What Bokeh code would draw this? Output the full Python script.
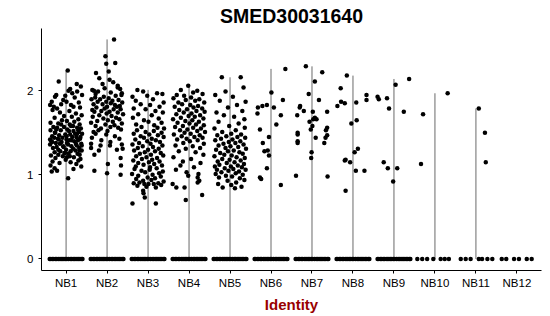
from bokeh.plotting import figure
from bokeh.models import Range1d, FixedTicker
from bokeh.embed import file_html
from bokeh.resources import INLINE

title_text = "SMED30031640"
x_title = "Identity"
categories = ["NB1", "NB2", "NB3", "NB4", "NB5", "NB6", "NB7", "NB8", "NB9", "NB10", "NB11", "NB12"]
y_ticks = [0, 1, 2]

# non-zero expression values per identity: (jitter offset, value)
nb1 = [(0.04,2.24),(0.36,2.05),(0.10,2.02),(0.39,1.95),(-0.24,1.95),(0.15,1.97),(-0.27,1.93),(-0.18,2.11),(0.26,2.08),(-0.39,1.83),(0.06,2.00),(0.21,1.92),(-0.07,1.89),(0.31,1.86),(-0.12,1.84),(0.18,1.81),(0.01,1.87),(0.34,1.80),(-0.02,1.94),(0.27,1.99),(-0.35,1.87),(-0.30,1.81),(0.12,1.83),
       (-0.33,1.77),(-0.22,1.79),(0.08,1.76),(-0.15,1.74),(0.24,1.73),(0.38,1.71),(-0.05,1.70),(0.14,1.69),(-0.28,1.68),(0.30,1.66),(-0.10,1.65),(0.02,1.64),(0.20,1.63),(-0.38,1.62),(-0.19,1.61),(0.33,1.60),(0.09,1.60),
       (0.12,1.58),(-0.31,1.57),(0.27,1.56),(-0.05,1.57),(0.36,1.55),(-0.22,1.56),(0.03,1.54),(-0.38,1.53),(0.18,1.52),(-0.13,1.53),(0.31,1.51),(0.07,1.52),(-0.27,1.50),(0.22,1.49),(-0.02,1.48),(0.39,1.49),(-0.17,1.47),(0.10,1.48),(-0.34,1.46),(0.25,1.45),(-0.09,1.44),(0.15,1.45),(0.34,1.43),(-0.29,1.44),(0.01,1.42),(-0.20,1.43),(0.29,1.41),(-0.36,1.40),(0.08,1.41),(-0.11,1.39),(0.20,1.40),(-0.25,1.38),(0.37,1.37),(0.05,1.36),(-0.15,1.37),(0.26,1.35),(-0.39,1.36),(0.13,1.34),(-0.06,1.33),(0.32,1.32),(-0.23,1.33),(0.17,1.31),(-0.32,1.32),(0.00,1.30),(0.23,1.29),(-0.14,1.28),(0.38,1.29),(-0.28,1.27),(0.11,1.28),(-0.03,1.26),(0.28,1.25),(-0.19,1.24),(0.06,1.25),(-0.37,1.23),(0.33,1.24),(-0.08,1.22),(0.19,1.21),(-0.26,1.20),(0.02,1.21),(0.35,1.19),
       (-0.27,1.50),(0.01,1.46),(0.27,1.49),(-0.18,1.42),(0.13,1.41),(0.38,1.35),(-0.07,1.34),(0.24,1.37),(-0.34,1.39),(0.33,1.29),(-0.19,1.30),(0.09,1.22),(-0.04,1.26),(0.17,1.58),(-0.12,1.60),(0.30,1.53),(-0.24,1.54),(0.02,1.38),(0.35,1.45),(-0.39,1.42),
       (-0.01,1.18),(0.30,1.17),(-0.33,1.16),(0.11,1.15),(-0.16,1.14),(0.25,1.13),(-0.38,1.11),(0.37,1.10),(-0.28,1.08),(0.18,1.07),(-0.22,1.05),(-0.35,1.04),(0.05,0.96)]
nb2 = [(0.17,2.61),(-0.04,2.41),(0.20,2.33),(-0.02,2.32),(0.04,2.23),(-0.27,2.21),(-0.19,2.15),(0.06,2.13),(0.15,2.10),(0.26,2.06),(-0.32,2.00),(0.26,2.04),(-0.11,2.08),(0.32,2.02),(-0.36,2.01),(-0.22,1.99),(0.09,1.98),(0.36,1.97),(-0.06,2.03),(-0.28,1.96),
       (0.21,1.94),(-0.08,1.93),(0.35,1.95),(-0.29,1.92),(0.04,1.91),(-0.17,1.90),(0.28,1.89),(-0.38,1.90),(0.13,1.88),(-0.02,1.87),(0.37,1.86),(-0.23,1.87),(0.09,1.85),(-0.33,1.84),(0.19,1.83),(-0.11,1.84),(0.31,1.82),(0.00,1.81),(-0.26,1.80),(0.24,1.81),(-0.06,1.79),(0.16,1.78),(-0.36,1.77),(0.33,1.78),(-0.14,1.76),(0.06,1.75),(0.26,1.74),(-0.31,1.75),(-0.01,1.73),(0.39,1.72),(-0.19,1.71),(0.11,1.70),(-0.35,1.69),(0.22,1.68),(-0.09,1.67),(0.30,1.66),(0.02,1.65),(-0.24,1.64),(0.14,1.63),(-0.39,1.62),(0.36,1.61),(-0.04,1.60),(0.18,1.59),(-0.28,1.58),(0.08,1.57),(0.27,1.56),(-0.15,1.55),(0.34,1.54),(-0.21,1.53),(0.01,1.52),(-0.33,1.51),
       (-0.28,1.49),(-0.02,1.48),(0.19,1.46),(-0.37,1.44),(0.30,1.43),(-0.14,1.41),(0.08,1.39),(-0.39,1.37),(0.36,1.36),(-0.16,1.35),(0.07,1.35),(-0.39,1.32),(0.38,1.31),(-0.20,1.29),(0.24,1.30),(-0.31,1.24),(0.33,1.20),(0.02,1.13),(0.34,1.11),(-0.31,1.05),(0.00,1.02),(0.33,1.00)]
nb3 = [(-0.26,2.01),(-0.12,1.99),(0.35,1.96),(-0.38,1.93),(-0.02,1.94),(0.22,1.97),(-0.30,1.88),(0.12,1.90),(0.38,1.86),(-0.18,1.84),(0.05,1.83),(0.28,1.81),(-0.35,1.79),(-0.06,1.78),(0.18,1.76),(0.36,1.74),(-0.24,1.72),(0.09,1.71),(-0.37,1.68),(0.26,1.67),(-0.10,1.65),(0.01,1.63),(0.33,1.62),(-0.29,1.60),(0.15,1.59),(-0.16,1.57),(0.23,1.56),(0.39,1.55),
       (-0.27,1.53),(0.14,1.52),(-0.06,1.51),(0.33,1.50),(-0.35,1.49),(0.03,1.48),(0.24,1.47),(-0.18,1.46),(0.38,1.45),(-0.10,1.44),(0.09,1.43),(-0.31,1.42),(0.19,1.41),(-0.02,1.40),(0.29,1.39),(-0.22,1.38),(0.06,1.37),(-0.38,1.36),(0.35,1.35),(-0.13,1.34),(0.12,1.33),(-0.25,1.32),(0.26,1.31),(0.00,1.30),(-0.34,1.29),(0.17,1.28),(-0.08,1.27),(0.31,1.26),(-0.20,1.25),(0.07,1.24),(0.37,1.23),(-0.29,1.22),(-0.04,1.21),(0.22,1.20),(-0.15,1.19),(0.10,1.18),(-0.36,1.17),(0.28,1.16),(0.02,1.15),(-0.24,1.14),(0.15,1.13),(-0.11,1.12),(0.34,1.11),(-0.30,1.10),(0.05,1.09),
       (0.21,1.08),(-0.33,1.07),(0.04,1.06),(-0.16,1.05),(0.36,1.04),(-0.07,1.03),(0.27,1.02),(-0.39,1.01),(0.11,1.00),(-0.24,0.99),(0.31,0.98),(-0.01,0.97),(0.17,0.96),(-0.29,0.95),(0.08,0.94),(-0.12,0.93),(0.38,0.92),(-0.21,0.91),(0.25,0.90),(-0.35,0.90),(0.01,0.89),(0.14,0.89),(-0.09,0.89),(0.32,0.88),(-0.26,0.87),(0.19,0.85),(-0.04,0.86),
       (-0.12,0.81),(-0.11,0.78),(-0.08,0.73),(-0.38,0.66),(0.19,0.66)]
nb4 = [(-0.02,2.06),(-0.20,2.01),(0.20,2.00),(0.10,1.98),(-0.30,1.95),(0.33,1.96),(-0.12,1.94),(0.05,1.92),(0.25,1.90),(-0.38,1.91),(-0.08,1.89),(0.15,1.88),(0.37,1.86),(-0.26,1.86),
       (-0.17,1.84),(0.03,1.83),(0.22,1.82),(-0.35,1.81),(0.11,1.80),(0.32,1.79),(-0.05,1.78),(-0.24,1.77),(0.18,1.76),(0.38,1.75),(-0.13,1.74),(0.06,1.73),(-0.31,1.72),(0.27,1.71),(-0.01,1.70),(0.14,1.69),(-0.20,1.68),(0.35,1.67),(-0.39,1.66),(0.08,1.65),(-0.09,1.64),(0.24,1.63),(-0.28,1.62),(0.01,1.61),(0.17,1.60),(0.36,1.59),(-0.15,1.58),(-0.34,1.57),(0.10,1.56),(0.29,1.55),(-0.04,1.54),(-0.22,1.53),(0.20,1.52),(0.39,1.51),(-0.11,1.50),(0.04,1.49),(-0.37,1.48),(0.26,1.47),(-0.18,1.46),(0.13,1.45),(0.33,1.44),(-0.06,1.43),(-0.29,1.42),(0.21,1.41),(0.02,1.40),(-0.14,1.38),(0.36,1.37),(-0.33,1.35),(0.09,1.34),(0.27,1.32),(-0.08,1.31),
       (-0.25,1.28),(0.16,1.27),(0.35,1.24),(-0.38,1.21),(0.05,1.19),(-0.15,1.16),(0.28,1.14),(-0.21,1.11),(0.12,1.09),(-0.32,1.06),(-0.06,1.03),(0.23,1.01),(-0.02,0.99),(0.21,0.97),(0.25,0.93),(0.21,0.91),(-0.40,0.89),(-0.31,0.85),(-0.11,0.85),(0.32,0.76),(-0.08,0.70)]
nb5 = [(-0.20,2.16),(0.26,2.16),(0.33,2.04),(-0.11,1.99),(-0.36,1.95),(0.07,1.93),(0.38,1.87),(-0.25,1.88),(0.17,1.83),(-0.05,1.80),(0.30,1.76),(-0.33,1.74),(-0.15,1.71),(0.10,1.69),(0.35,1.66),(-0.28,1.63),(0.21,1.61),(-0.02,1.58),(0.36,1.56),(-0.38,1.55),(0.14,1.53),(-0.19,1.51),
       (0.03,1.49),(0.27,1.48),(-0.31,1.47),(-0.09,1.46),(0.18,1.45),(0.37,1.44),(-0.22,1.43),(0.06,1.42),(-0.36,1.41),(0.25,1.40),(-0.03,1.39),(0.13,1.38),(-0.16,1.37),(0.33,1.36),(-0.28,1.35),(0.01,1.34),(0.20,1.33),(-0.11,1.32),(0.39,1.31),(-0.34,1.30),(0.09,1.29),(-0.05,1.28),(0.23,1.27),(-0.24,1.26),(0.31,1.25),(-0.14,1.24),(0.04,1.23),(-0.38,1.22),(0.16,1.21),(0.36,1.20),(-0.19,1.19),(-0.01,1.18),(0.26,1.17),(-0.30,1.16),(0.11,1.15),(-0.08,1.14),(0.34,1.13),(-0.26,1.12),(0.19,1.11),(-0.37,1.10),(0.02,1.10),(0.29,1.09),(-0.13,1.08),(0.08,1.07),(-0.32,1.06),(0.38,1.06),(-0.04,1.05),(0.22,1.04),(-0.21,1.03),(0.14,1.02),(-0.35,1.01),(0.31,1.00),(-0.10,0.99),(0.05,0.98),(-0.27,0.97),(0.24,0.96),(0.35,0.94),(-0.06,0.93),(0.15,0.91),(-0.29,0.89),(0.03,0.88),(0.28,0.86),(-0.18,0.85),(0.12,0.84)]
nb6 = [(0.35,2.26),(0.01,1.98),(0.29,1.89),(-0.32,1.80),(-0.21,1.82),(-0.10,1.83),(0.07,1.80),(0.24,1.71),(-0.33,1.73),(0.13,1.60),(-0.27,1.54),(-0.05,1.45),(-0.20,1.38),(-0.08,1.29),(-0.16,1.28),(-0.05,1.23),(-0.10,1.08),(-0.27,0.97),(-0.24,0.95),(0.24,0.88)]
nb7 = [(-0.15,2.29),(0.25,2.22),(0.07,2.11),(-0.08,1.96),(0.17,1.89),(-0.29,1.82),(-0.30,1.80),(0.02,1.75),(-0.20,1.76),(-0.36,1.71),(0.37,1.75),(0.07,1.68),(0.11,1.66),(0.03,1.66),(-0.06,1.63),(0.01,1.58),(-0.03,1.54),(0.37,1.56),(0.34,1.53),(0.37,1.47),(0.33,1.44),(0.09,1.44),(0.30,1.38),(-0.35,1.50),(-0.35,1.48),(-0.35,1.40),(-0.35,1.38),(-0.01,1.27),(-0.02,1.20),(-0.39,0.99),(0.38,0.98)]
nb8 = [(-0.15,2.18),(-0.30,2.03),(-0.38,1.82),(-0.29,1.87),(-0.20,1.85),(0.08,1.86),(0.33,1.95),(0.33,1.89),(0.09,1.65),(-0.04,1.61),(0.12,1.31),(0.04,1.27),(-0.18,1.18),(-0.20,1.17),(-0.07,1.15),(0.07,1.05),(0.28,1.05),(-0.18,0.81)]
nb9 = [(0.37,2.14),(0.04,2.07),(-0.40,1.93),(-0.37,1.90),(-0.17,1.91),(-0.12,1.79),(0.24,1.75),(-0.25,1.15),(-0.15,1.08),(0.08,1.08),(-0.02,0.92)]
nb10 = [(0.31,1.97),(-0.29,1.72),(-0.34,1.13)]
nb11 = [(0.07,1.79),(0.22,1.50),(0.24,1.15)]
nb12 = []
nonzero = [nb1, nb2, nb3, nb4, nb5, nb6, nb7, nb8, nb9, nb10, nb11, nb12]

# jitter offsets of the cells with zero expression
zero_dense = [-0.40,-0.37,-0.33,-0.30,-0.26,-0.23,-0.19,-0.15,-0.12,-0.08,-0.05,-0.01,0.02,0.06,0.10,0.13,0.17,0.20,0.24,0.27,0.31,0.34,0.38,0.40]
zero_nb10 = [-0.43,-0.31,-0.19,-0.04,0.14,0.24,0.34]
zero_nb11 = [-0.37,-0.25,-0.13,0.07,0.15,0.28,0.40]
zero_nb12 = [-0.37,-0.26,-0.07,0.05,0.24,0.36]
zeros = [zero_dense]*9 + [zero_nb10, zero_nb11, zero_nb12]

p = figure(width=550, height=316, x_range=Range1d(0.4, 12.6), y_range=Range1d(-0.137, 2.74),
           output_backend="svg", toolbar_location=None,
           min_border_left=41, min_border_right=9, min_border_top=28, min_border_bottom=46)
p.outline_line_color = None
p.background_fill_color = "white"
p.border_fill_color = "white"
p.xgrid.visible = False
p.ygrid.visible = False

# violins (degenerate: vertical segment from 0 to the max)
vx, vtop = [], []
for i, pts in enumerate(nonzero):
    if pts:
        vx.append(i + 1)
        vtop.append(max(v for _, v in pts))
p.segment(x0=vx, y0=[0]*len(vx), x1=vx, y1=vtop, line_color="#6a6a6a", line_width=1)

px, py = [], []
for i, pts in enumerate(nonzero):
    for dx, v in pts:
        px.append(i + 1 + dx)
        py.append(v)
for i, offs in enumerate(zeros):
    for dx in offs:
        px.append(i + 1 + dx)
        py.append(0)
p.scatter(px, py, size=4.5, fill_color="black", line_color=None)

p.title.text = title_text
p.title.align = "center"
p.title.text_font = "Liberation Sans"
p.title.text_font_style = "bold"
p.title.text_font_size = "19.5px"
p.title.text_color = "black"
p.title.standoff = 3

for ax in (p.xaxis[0], p.yaxis[0]):
    ax.axis_line_color = "black"
    ax.axis_line_width = 1
    ax.major_tick_line_color = "black"
    ax.major_tick_out = 3
    ax.major_tick_in = 0
    ax.minor_tick_line_color = None
    ax.major_label_text_font = "Liberation Sans"
    ax.major_label_text_font_size = "11.5px"
    ax.major_label_text_color = "black"

p.xaxis.ticker = FixedTicker(ticks=list(range(1, len(categories) + 1)))
p.xaxis.major_label_overrides = {i + 1: c for i, c in enumerate(categories)}
p.xaxis.major_label_standoff = 3
p.xaxis.axis_label = x_title
p.xaxis.axis_label_text_font = "Liberation Sans"
p.xaxis.axis_label_text_font_style = "bold"
p.xaxis.axis_label_text_font_size = "15px"
p.xaxis.axis_label_text_color = "#990000"
p.xaxis.axis_label_standoff = 4

p.yaxis.ticker = FixedTicker(ticks=y_ticks)
p.yaxis.major_label_standoff = 5

open("out.html", "w").write(file_html(p, INLINE))
